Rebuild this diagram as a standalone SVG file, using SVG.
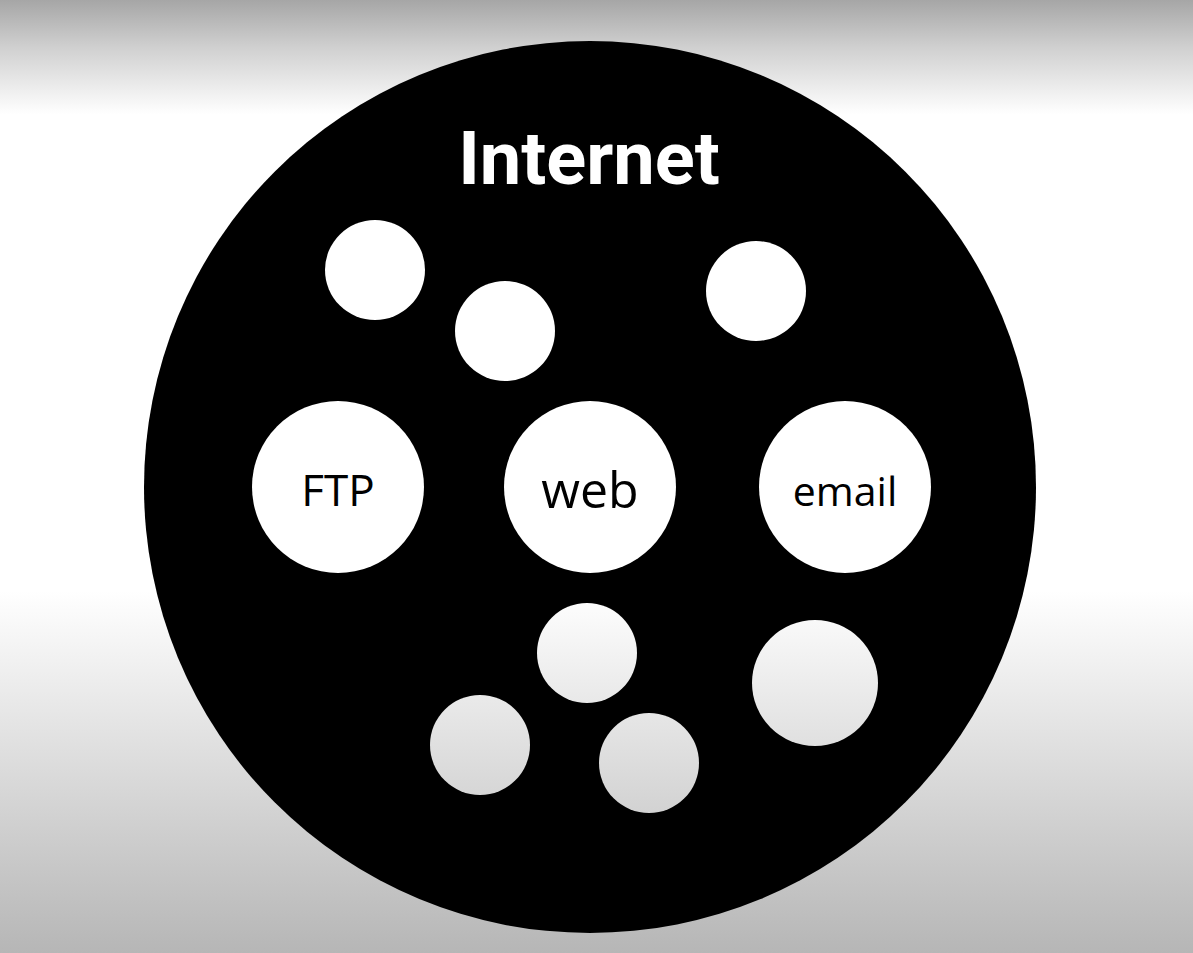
<svg xmlns="http://www.w3.org/2000/svg" width="1193" height="953" viewBox="0 0 1193 953">
<defs>
<linearGradient id="bg" gradientUnits="userSpaceOnUse" x1="0" y1="0" x2="0" y2="953">
<stop offset="0" stop-color="#a6a6a6"/>
<stop offset="0.05" stop-color="#d0d0d0"/>
<stop offset="0.12" stop-color="#ffffff"/>
<stop offset="0.62" stop-color="#ffffff"/>
<stop offset="1" stop-color="#b6b6b6"/>
</linearGradient>
<style>
.hole{fill:url(#bg)}
.lbl{font-family:"Open Sans","Noto Sans",sans-serif;fill:#000;text-anchor:middle}
.title{font-family:Roboto,"Liberation Sans",sans-serif;font-weight:bold;fill:#fff;text-anchor:middle}
</style>
</defs>
<rect x="0" y="0" width="1193" height="953" fill="url(#bg)"/>
<g id="internet">
<circle cx="590" cy="487" r="446" fill="#000"/>
<text class="title" x="589" y="184" font-size="74">Internet</text>
</g>
<g id="c1"><circle class="hole" cx="375" cy="270" r="50"/></g>
<g id="c2"><circle class="hole" cx="505" cy="331" r="50"/></g>
<g id="c3"><circle class="hole" cx="756" cy="291" r="50"/></g>
<g id="ftp"><circle class="hole" cx="338" cy="487" r="86"/><text class="lbl" x="338" y="506" font-size="44">FTP</text></g>
<g id="web"><circle class="hole" cx="590" cy="487" r="86"/><text class="lbl" x="590" y="508" font-size="50">web</text></g>
<g id="email"><circle class="hole" cx="845" cy="487" r="86"/><text class="lbl" x="845" y="506" font-size="41">email</text></g>
<g id="c4"><circle class="hole" cx="587" cy="653" r="50"/></g>
<g id="c5"><circle class="hole" cx="480" cy="745" r="50"/></g>
<g id="c6"><circle class="hole" cx="649" cy="763" r="50"/></g>
<g id="c7"><circle class="hole" cx="815" cy="683" r="63"/></g>
<g id="connectors"/>
</svg>
